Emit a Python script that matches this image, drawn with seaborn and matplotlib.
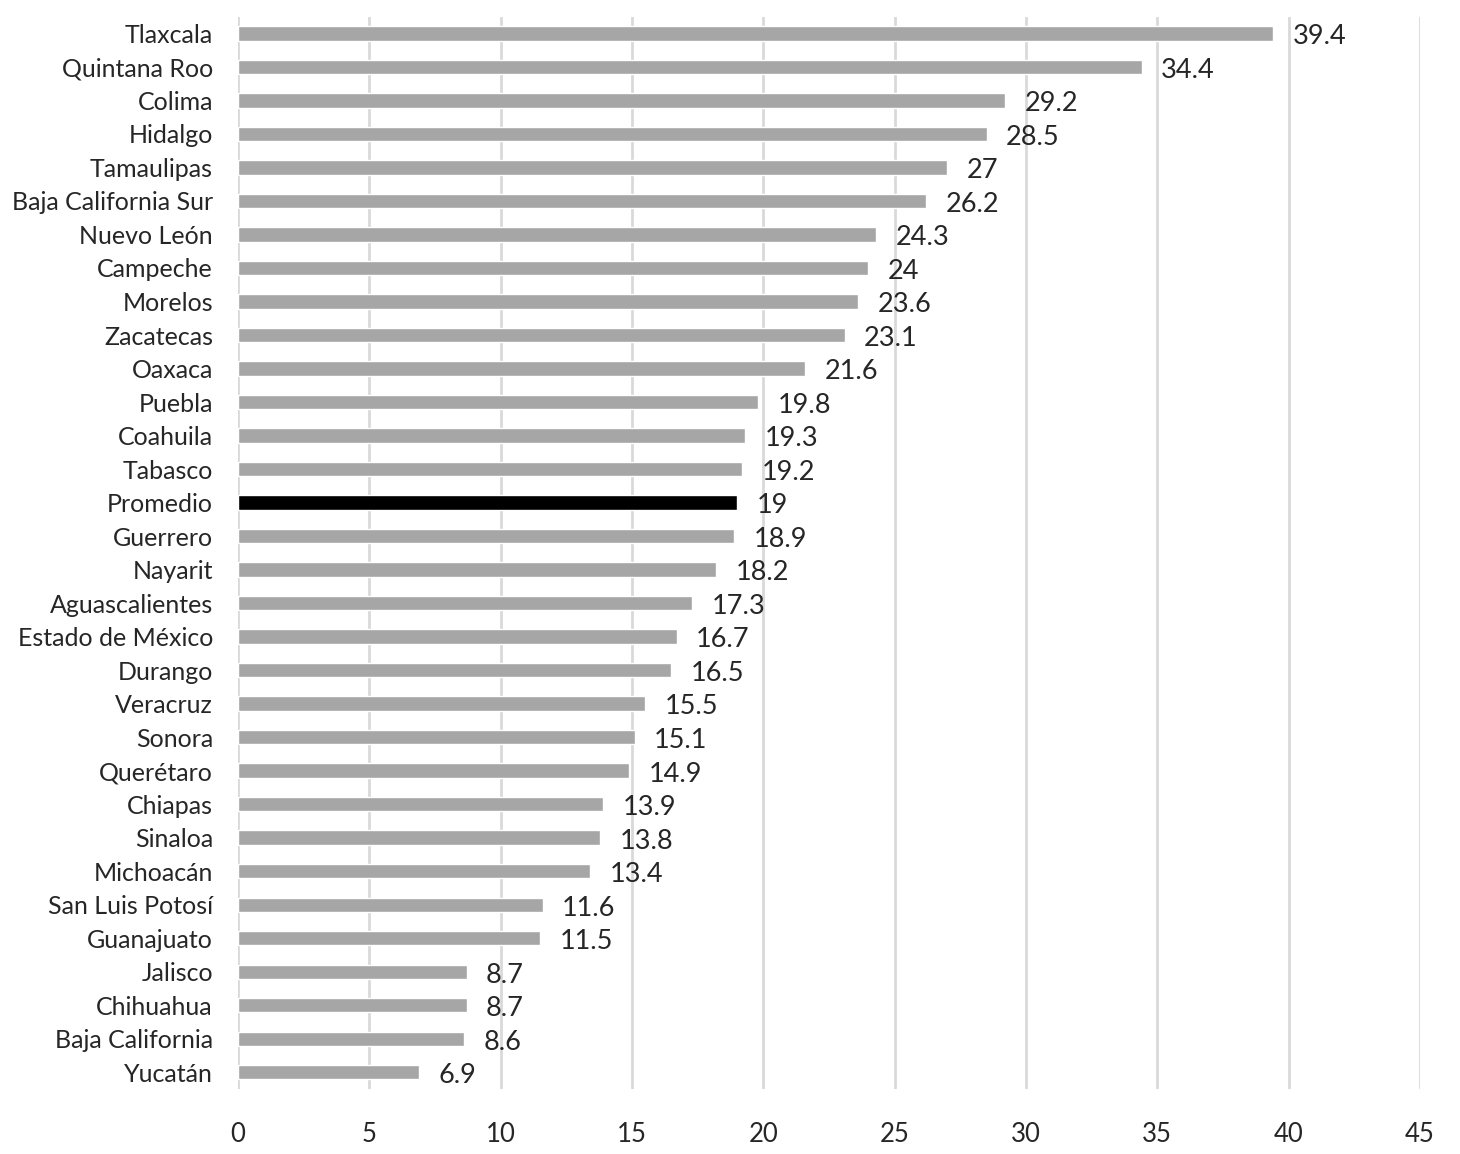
import matplotlib
matplotlib.use("Agg")
import matplotlib.pyplot as plt
import seaborn as sns
import pandas as pd

estados = ["Tlaxcala", "Quintana Roo", "Colima", "Hidalgo", "Tamaulipas",
           "Baja California Sur", "Nuevo León", "Campeche", "Morelos", "Zacatecas",
           "Oaxaca", "Puebla", "Coahuila", "Tabasco", "Promedio", "Guerrero",
           "Nayarit", "Aguascalientes", "Estado de México", "Durango", "Veracruz",
           "Sonora", "Querétaro", "Chiapas", "Sinaloa", "Michoacán",
           "San Luis Potosí", "Guanajuato", "Jalisco", "Chihuahua",
           "Baja California", "Yucatán"]
valores = [39.4, 34.4, 29.2, 28.5, 27, 26.2, 24.3, 24, 23.6, 23.1,
           21.6, 19.8, 19.3, 19.2, 19, 18.9, 18.2, 17.3, 16.7, 16.5, 15.5,
           15.1, 14.9, 13.9, 13.8, 13.4, 11.6, 11.5, 8.7, 8.7, 8.6, 6.9]
etiquetas = ["39.4", "34.4", "29.2", "28.5", "27", "26.2", "24.3", "24", "23.6", "23.1",
             "21.6", "19.8", "19.3", "19.2", "19", "18.9", "18.2", "17.3", "16.7", "16.5",
             "15.5", "15.1", "14.9", "13.9", "13.8", "13.4", "11.6", "11.5", "8.7", "8.7",
             "8.6", "6.9"]
x_ticks = [0, 5, 10, 15, 20, 25, 30, 35, 40, 45]

df = pd.DataFrame({"estado": estados, "valor": valores})
colores = {e: ("#000000" if e == "Promedio" else "#a6a6a6") for e in estados}

sns.set_style("white")
plt.rcParams['font.family'] = ['Lato', 'DejaVu Sans']

fig = plt.figure(figsize=(14.6, 11.54), dpi=100)
ax = fig.add_axes([0.163, 0.0565, 0.8096, 0.929])

sns.barplot(data=df, x="valor", y="estado", hue="estado", palette=colores,
            legend=False, width=0.42, ax=ax, saturation=1)

ax.set_xlim(0, 45)
ax.set_ylim(len(estados) - 0.5, -0.5)
ax.set_xticks(x_ticks)
ax.xaxis.grid(True, color="#d9d9d9", linewidth=2)
ax.yaxis.grid(False)
ax.set_axisbelow(True)
for s in ax.spines.values():
    s.set_visible(False)
ax.set_xlabel("")
ax.set_ylabel("")
ax.tick_params(axis="x", length=0, pad=24, labelsize=18.5)
ax.tick_params(axis="y", length=0, pad=18, labelsize=18)

for i, (v, t) in enumerate(zip(valores, etiquetas)):
    ax.annotate(t, (v, i), xytext=(14, -2.5), textcoords="offset points",
                va="center", ha="left", fontsize=19.5)

fig.savefig("out.png", dpi=100)
